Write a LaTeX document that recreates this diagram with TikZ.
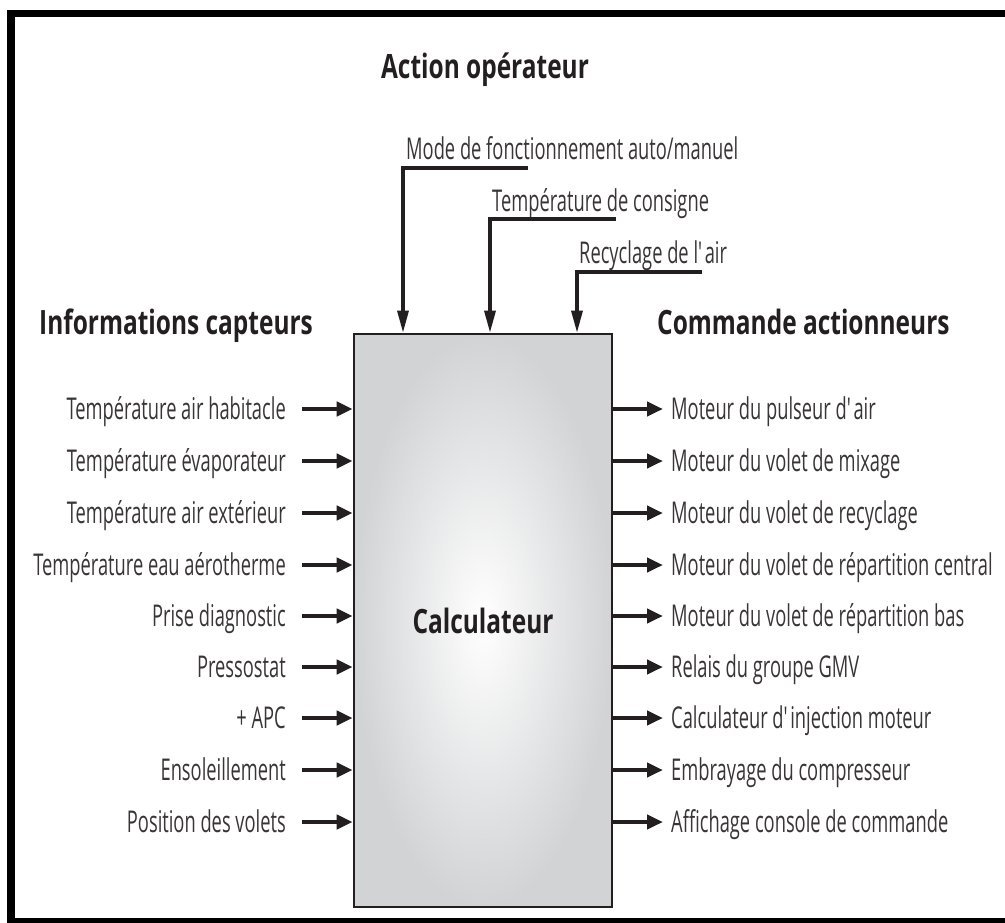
\documentclass[tikz,border=0pt]{standalone}
\usepackage{fontspec}
\setmainfont{Open Sans}
\newfontfamily\bodyfont{Open Sans}[FakeStretch=0.61]
\newfontfamily\headfont{Open Sans}[FakeStretch=0.73]
\usetikzlibrary{arrows.meta}
\definecolor{ink}{HTML}{231F20}
\definecolor{boxgray}{HTML}{D2D3D5}
\begin{document}
\begin{tikzpicture}[x=1pt,y=-1pt,
  lbl/.style={font=\bodyfont\fontsize{30}{34}\selectfont, text=ink!90, inner sep=0pt},
  head/.style={font=\headfont\bfseries\fontsize{33.5}{38}\selectfont, text=ink, inner sep=0pt},
  arr/.style={draw=ink, line width=4pt, -{Triangle[length=16pt,width=14pt]}},
  toparr/.style={draw=ink, line width=3.2pt, line join=miter, -{Triangle[length=22pt,width=11pt]}},
]
\useasboundingbox (0,0) rectangle (1005,922);
% frame
\draw[line width=7.5pt, line join=miter] (1012,13.5) -- (11,13.5) -- (11,921.5) -- (1012,921.5);
% central box
\node[draw=ink, line width=2.6pt, minimum width=258pt, minimum height=573pt,
      inner color=white, outer color=boxgray, inner sep=0pt,
      font=\headfont\bfseries\fontsize{33.5}{38}\selectfont, text=ink]
      (calc) at (483,620.5) {Calculateur};
% headings
\node[head, anchor=base] (hact) at (485,78) {Action opérateur};
\node[head, anchor=base west] (hinf) at (39,334) {Informations capteurs};
\node[head, anchor=base west] (hcom) at (657,334) {Commande actionneurs};
% inputs
\foreach \y/\t [count=\i] in {409/Température air habitacle, 461/Température évaporateur,
  513/Température air extérieur, 565/Température eau aérotherme, 616/Prise diagnostic,
  667/Pressostat, 718/+ APC, 770/Ensoleillement, 822/Position des volets}{
  \node[lbl, anchor=base east] (in\i) at (286,\y+10) {\t};
  \coordinate (ins\i) at (302,\y);
  \draw[arr] (ins\i) -- (calc.west |- ins\i);
}
% outputs
\foreach \y/\t [count=\i] in {409/Moteur du pulseur d\textquotesingle air, 461/Moteur du volet de mixage,
  513/Moteur du volet de recyclage, 565/Moteur du volet de répartition central,
  616/Moteur du volet de répartition bas, 667/Relais du groupe GMV,
  718/Calculateur d\textquotesingle injection moteur, 770/Embrayage du compresseur,
  822/Affichage console de commande}{
  \node[lbl, anchor=base west] (out\i) at (671,\y+10) {\t};
  \coordinate (oute\i) at (663,\y);
  \draw[arr] (calc.east |- oute\i) -- (oute\i);
}
% operator actions
\node[lbl, anchor=base west] (op1) at (406,159) {Mode de fonctionnement auto/manuel};
\node[lbl, anchor=base west] (op2) at (492,211) {Température de consigne};
\node[lbl, anchor=base west] (op3) at (579,263) {Recyclage de l\textquotesingle air};
\coordinate (s1) at (528,168);
\coordinate (s2) at (616,219);
\coordinate (s3) at (702,272);
\coordinate (e1) at (403,0);
\coordinate (e2) at (490,0);
\coordinate (e3) at (577,0);
\draw[toparr] (s1) -| (calc.north -| e1);
\draw[toparr] (s2) -| (calc.north -| e2);
\draw[toparr] (s3) -| (calc.north -| e3);
\end{tikzpicture}
\end{document}
